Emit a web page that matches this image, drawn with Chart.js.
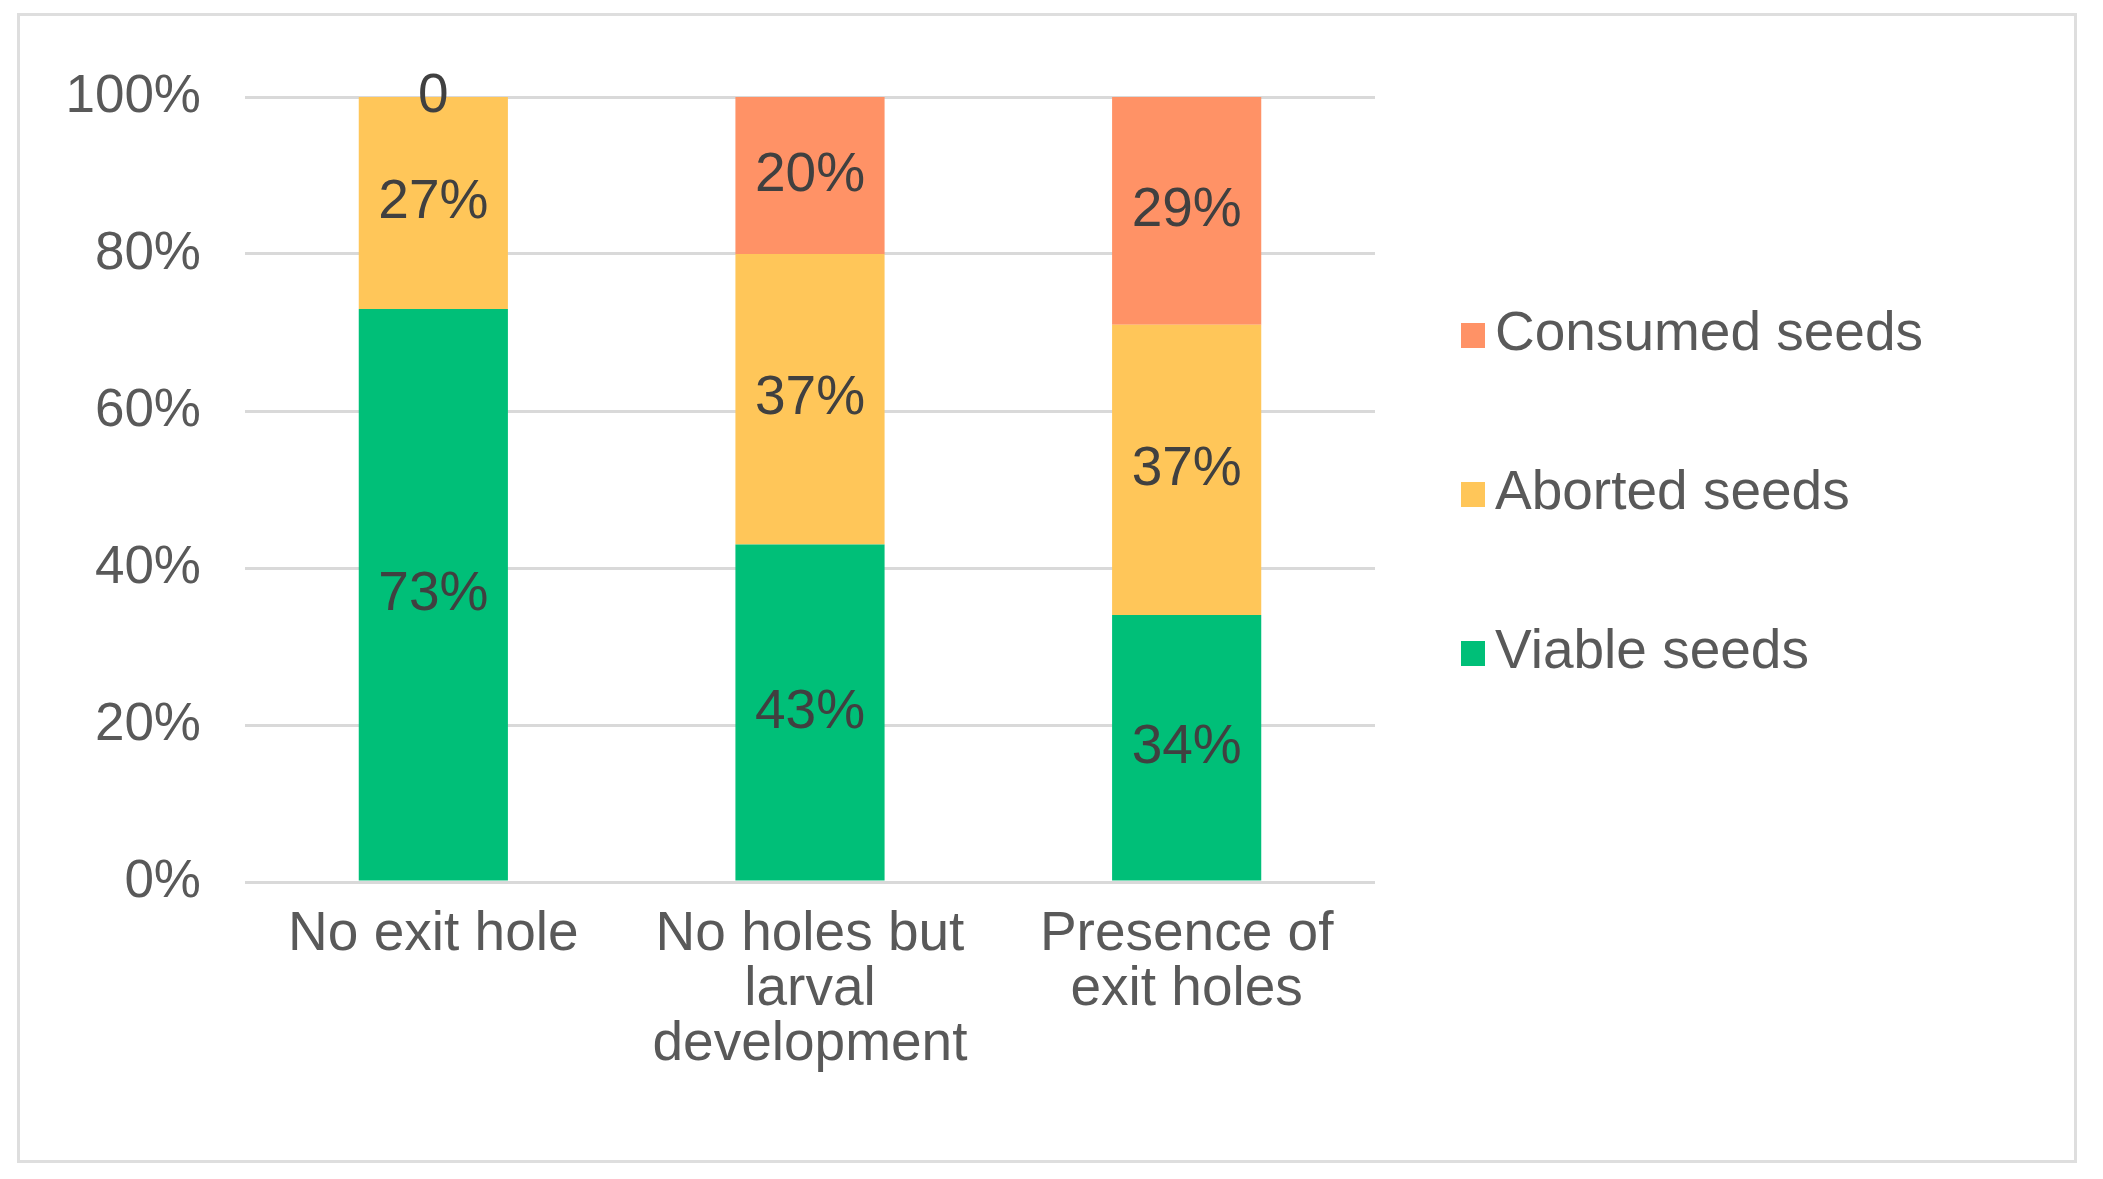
<!DOCTYPE html>
<html>
<head>
<meta charset="utf-8">
<script src="https://cdn.jsdelivr.net/npm/chart.js@4.4.1/dist/chart.umd.min.js"></script>
<style>
    html, body {
        margin: 0;
        padding: 0;
        background: #fff;
        width: 2103px;
        height: 1179px;
        overflow: hidden;
        font-family: "Liberation Sans", Arial, sans-serif;
    }
    #frame {
        position: absolute;
        left: 17px;
        top: 13px;
        width: 2054px;
        height: 1144px;
        border: 3px solid #dedede;
    }
    #chart-wrap {
        position: absolute;
        left: 0;
        top: 0;
        width: 2103px;
        height: 1179px;
    }
    #legend {
        position: absolute;
        left: 1461px;
        top: 297px;
        margin: 0;
        padding: 0;
        list-style: none;
    }
    #legend li {
        display: flex;
        align-items: flex-start;
        height: 68px;
        line-height: 68px;
        margin-bottom: 91px;
        font-size: 55px;
        color: #595959;
        white-space: nowrap;
    }
    #legend .box {
        display: inline-block;
        width: 24px;
        height: 25px;
        margin-right: 10px;
        margin-top: 26px;
    }
</style>
</head>
<body>
<div id="frame"></div>
<div id="chart-wrap"><canvas id="seedChart"></canvas></div>
<ul id="legend"></ul>
<script>
// categories (multi-line axis labels)
const categories = [
    ['No exit hole'],
    ['No holes but', 'larval', 'development'],
    ['Presence of', 'exit holes']
];

// series values in percent
const viableSeeds = [73, 43, 34];
const abortedSeeds = [27, 37, 37];
const consumedSeeds = [0, 20, 29];

const seriesNames = ['Viable seeds', 'Aborted seeds', 'Consumed seeds'];
const seriesColors = ['#00bf78', '#ffc659', '#ff9266'];

const yTicks = [0, 20, 40, 60, 80, 100];

const textGray = '#595959';
const labelDark = '#404040';
const fontFamily = '"Liberation Sans", Arial, sans-serif';

// Draws the value inside each stacked segment
const segmentLabels = {
    id: 'segmentLabels',
    afterDatasetsDraw(chart) {
        const ctx = chart.ctx;
        ctx.save();
        ctx.font = `55px ${fontFamily}`;
        ctx.fillStyle = labelDark;
        ctx.textAlign = 'center';
        ctx.textBaseline = 'middle';
        chart.data.datasets.forEach((ds, i) => {
            const meta = chart.getDatasetMeta(i);
            meta.data.forEach((bar, j) => {
                const v = ds.data[j];
                const y = (bar.y + bar.base) / 2;
                ctx.fillText(v === 0 ? '0' : v + '%', bar.x, y);
            });
        });
        ctx.restore();
    }
};

const data = [viableSeeds, abortedSeeds, consumedSeeds];

new Chart(document.getElementById('seedChart'), {
    type: 'bar',
    data: {
        labels: categories,
        datasets: seriesNames.map((name, i) => ({
            label: name,
            data: data[i],
            backgroundColor: seriesColors[i],
            borderWidth: 0,
            categoryPercentage: 1,
            barPercentage: 0.396
        }))
    },
    options: {
        responsive: true,
        maintainAspectRatio: false,
        animation: false,
        layout: {
            padding: { top: 97, right: 728, bottom: 0, left: 0 }
        },
        plugins: {
            legend: { display: false },
            tooltip: { enabled: false }
        },
        scales: {
            x: {
                stacked: true,
                grid: { display: false, drawTicks: false },
                border: { display: false },
                ticks: {
                    color: textGray,
                    padding: 25,
                    maxRotation: 0,
                    autoSkip: false,
                    font: { family: fontFamily, size: 55, lineHeight: 1.0 }
                },
                afterFit(scale) {
                    scale.height = 297;
                }
            },
            y: {
                stacked: true,
                min: 0,
                max: 100,
                afterBuildTicks(scale) {
                    scale.ticks = yTicks.map(v => ({ value: v }));
                },
                grid: {
                    color: '#d9d9d9',
                    lineWidth: 3,
                    drawTicks: false
                },
                border: { display: false },
                ticks: {
                    color: textGray,
                    padding: 44,
                    font: { family: fontFamily, size: 53 },
                    callback: v => v + '%'
                },
                afterFit(scale) {
                    scale.width = 245;
                }
            }
        }
    },
    plugins: [segmentLabels]
});

// Legend, listed top-down in reverse stacking order
const legend = document.getElementById('legend');
legend.innerHTML = seriesNames.map((name, i) => `
    <li><span class="box" style="background:${seriesColors[i]}"></span>${name}</li>
`).reverse().join('');
</script>
</body>
</html>
